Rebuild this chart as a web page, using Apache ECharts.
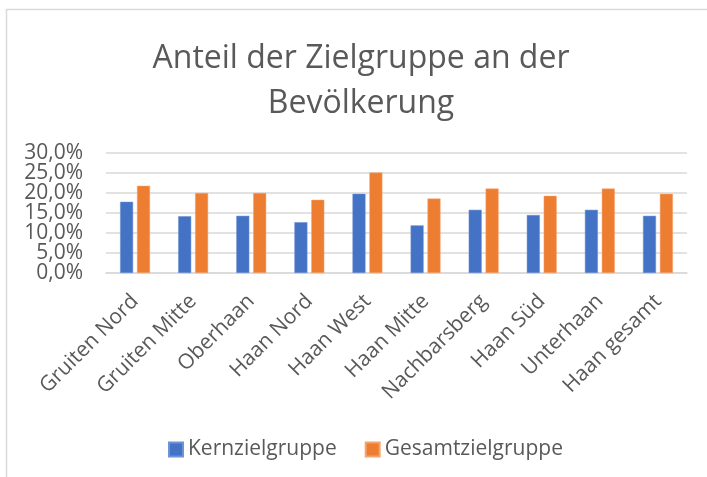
<!DOCTYPE html>
<html>
<head>
<meta charset="utf-8">
<script src="https://cdn.jsdelivr.net/npm/echarts@6/dist/echarts.min.js"></script>
<style>html,body{margin:0;padding:0;background:#fff}#c{width:707px;height:477px}</style>
</head>
<body>
<div id="c"></div>
<script>
const categories = ['Gruiten Nord','Gruiten Mitte','Oberhaan','Haan Nord','Haan West','Haan Mitte','Nachbarsberg','Haan Süd','Unterhaan','Haan gesamt'];
const kernzielgruppe = [17.8, 14.2, 14.3, 12.7, 19.8, 11.9, 15.8, 14.5, 15.8, 14.3];
const gesamtzielgruppe = [21.8, 20.0, 20.0, 18.3, 25.1, 18.6, 21.1, 19.3, 21.1, 19.8];
const seriesNames = ['Kernzielgruppe','Gesamtzielgruppe'];
const titleLines = ['Anteil der Zielgruppe an der','Bevölkerung'];
const yMin = 0, yMax = 30, yStep = 5;

const FONT = '"Open Sans", sans-serif';
const fmt = v => v.toFixed(1).replace('.',',') + '%';
const labelBase = {margin:23, fontFamily:FONT, fontSize:21, color:'#595959'};
const chart = echarts.init(document.getElementById('c'), null, {renderer:'canvas'});
chart.setOption({
  animation:false,
  backgroundColor:'#ffffff',
  graphic:[{type:'rect', shape:{x:6.5,y:9.5,width:800,height:600}, style:{fill:'none',stroke:'#d9d9d9',lineWidth:1.5}, silent:true}],
  title:{
    text:titleLines.join('\n'), left:356, top:31, textAlign:'center',
    textStyle:{fontFamily:FONT,fontSize:32,fontWeight:'normal',color:'#595959',lineHeight:45}
  },
  legend:{
    data:seriesNames, top:434, left:163, itemWidth:14, itemHeight:14, itemGap:28,
    icon:'rect',
    textStyle:{fontFamily:FONT,fontSize:21,color:'#595959'}
  },
  grid:{left:106, right:20, top:153, bottom:204, containLabel:false},
  xAxis:{
    type:'category', data:categories,
    axisLine:{lineStyle:{color:'#d9d9d9',width:1.5}},
    axisTick:{show:false},
    axisLabel:{rotate:45, margin:25, interval:0, fontFamily:FONT, fontSize:21, color:'#595959'}
  },
  yAxis:[
    {
      type:'value', min:yMin, max:yMax, interval:yStep, position:'left',
      axisLine:{show:false}, axisTick:{show:false},
      splitLine:{lineStyle:{color:'#d9d9d9',width:1.5}},
      axisLabel:Object.assign({}, labelBase, {formatter:fmt})
    },
    {
      type:'value', min:yMin, max:yMax, interval:yStep, position:'left', offset:0,
      axisLine:{show:false}, axisTick:{show:false}, splitLine:{show:false},
      axisLabel:Object.assign({}, labelBase, {showMinLabel:true, showMaxLabel:true,
        formatter:v => (v === yMin || v === yMax) ? fmt(v) : ''})
    }
  ],
  series:[
    {name:seriesNames[0], type:'bar', yAxisIndex:0, data:kernzielgruppe, barWidth:13, barGap:'30%',
     itemStyle:{color:'#4472C4', borderColor:'#6f93d6', borderWidth:0.5}},
    {name:seriesNames[1], type:'bar', yAxisIndex:0, data:gesamtzielgruppe, barWidth:13, barGap:'30%',
     itemStyle:{color:'#ED7D31', borderColor:'#f4a46f', borderWidth:0.5}}
  ]
});
</script>
</body>
</html>
